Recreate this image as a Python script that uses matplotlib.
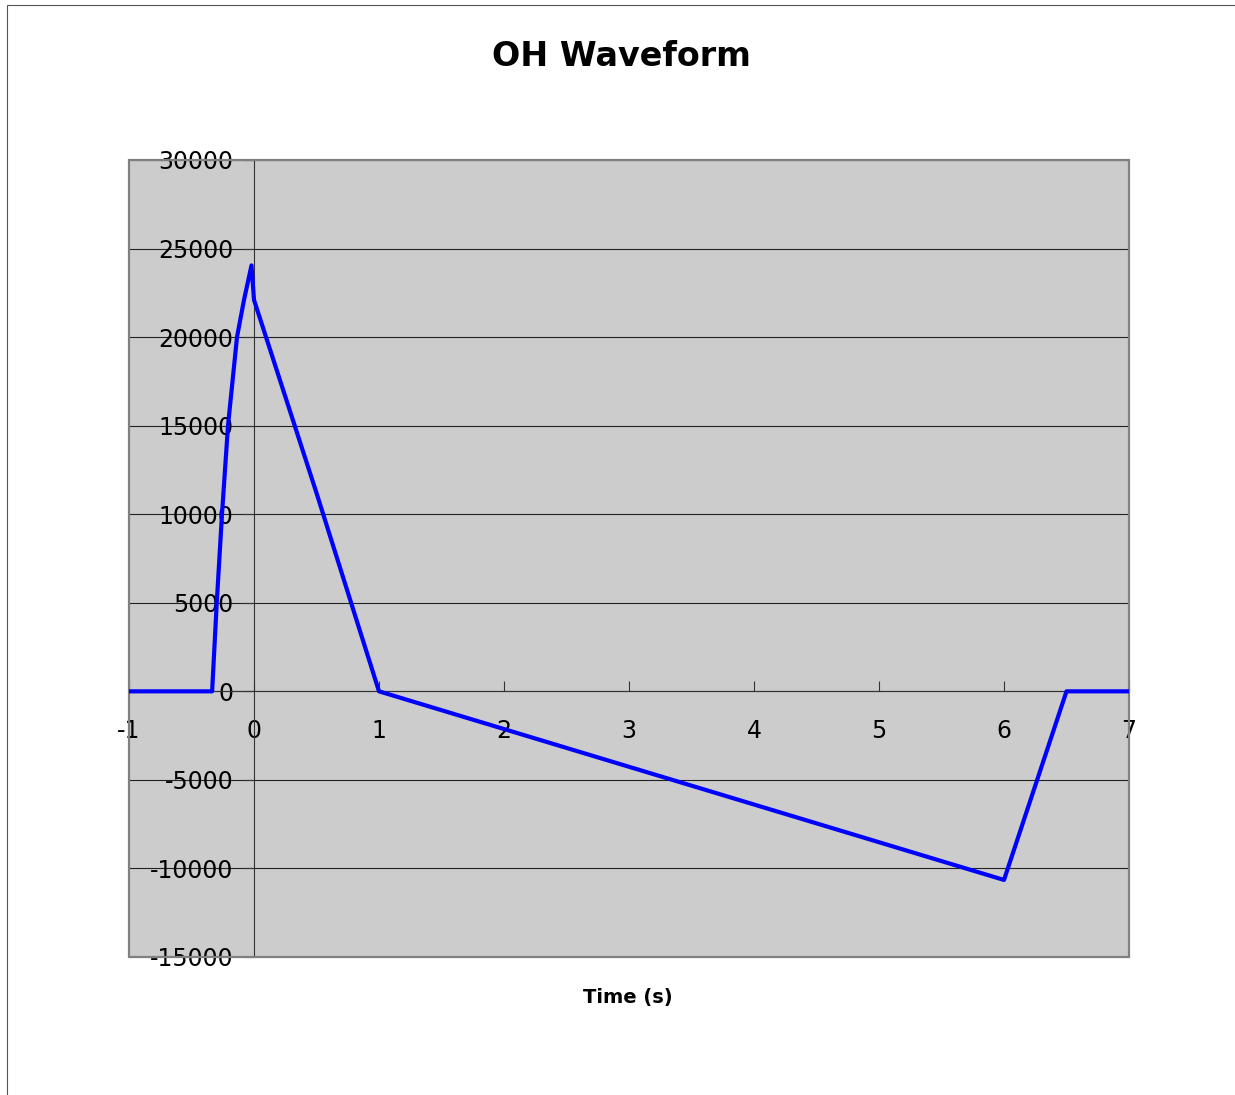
import matplotlib.pyplot as plt
from matplotlib.patches import Rectangle

# waveform points
time_s = [-1.0, -0.335, -0.298, -0.256, -0.208, -0.136, -0.08, -0.02, 0.0, 0.5, 1.0, 6.0, 6.5, 7.0]
current = [0, 0, 5000, 10000, 15000, 20000, 22100, 24050, 22100, 11200, 0, -10650, 0, 0]

x_ticks = [-1, 0, 1, 2, 3, 4, 5, 6, 7]
y_ticks = [-15000, -10000, -5000, 0, 5000, 10000, 15000, 20000, 25000, 30000]

W, H = 1235, 1095
fig = plt.figure(figsize=(W / 100, H / 100), dpi=100)
ax = fig.add_axes([129 / W, 1 - 957 / H, 1000 / W, 797 / H])

ax.set_facecolor('#cccccc')
ax.plot(time_s, current, color='#0000ff', linewidth=3.0, solid_joinstyle='round', zorder=5)

ax.set_xlim(-1, 7)
ax.set_ylim(-15000, 30000)
ax.set_xticks(x_ticks)
ax.set_yticks(y_ticks)
ax.set_xticklabels([str(t) for t in x_ticks])
ax.set_yticklabels([str(t) for t in y_ticks])

# axes cross at zero like the spreadsheet chart
ax.spines['left'].set_position(('data', 0))
ax.spines['bottom'].set_position(('data', 0))
ax.spines['top'].set_visible(False)
ax.spines['right'].set_visible(False)
for s in ('left', 'bottom'):
    ax.spines[s].set_color('#333333')
    ax.spines[s].set_linewidth(0.8)
    ax.spines[s].set_zorder(3)

ax.grid(axis='y', color='#222222', linewidth=0.8)
ax.set_axisbelow(True)

ax.tick_params(axis='y', direction='out', length=8, width=0.8, pad=7,
               labelsize=17, color='#333333')
ax.tick_params(axis='x', direction='in', length=7, width=0.8, pad=20,
               labelsize=17, color='#333333')
for lbl in ax.get_yticklabels() + ax.get_xticklabels():
    lbl.set_zorder(10)

# grey frame of the plot area
ax.add_patch(Rectangle((0, 0), 1, 1, transform=ax.transAxes, fill=False,
                       edgecolor='#808080', linewidth=1.6, zorder=4, clip_on=False))

# outer chart border
fig.patches.append(Rectangle((7 / W, -0.1), 1.2, 1 - 5 / H + 0.1, transform=fig.transFigure,
                             fill=False, edgecolor='#555555', linewidth=0.8))

fig.text(621 / W, 1 - 57 / H, 'OH Waveform', ha='center', va='center',
         fontsize=24, fontweight='bold')
fig.text(628 / W, 1 - 997 / H, 'Time (s)', ha='center', va='center',
         fontsize=14, fontweight='bold')

fig.savefig('out.png', dpi=100)
